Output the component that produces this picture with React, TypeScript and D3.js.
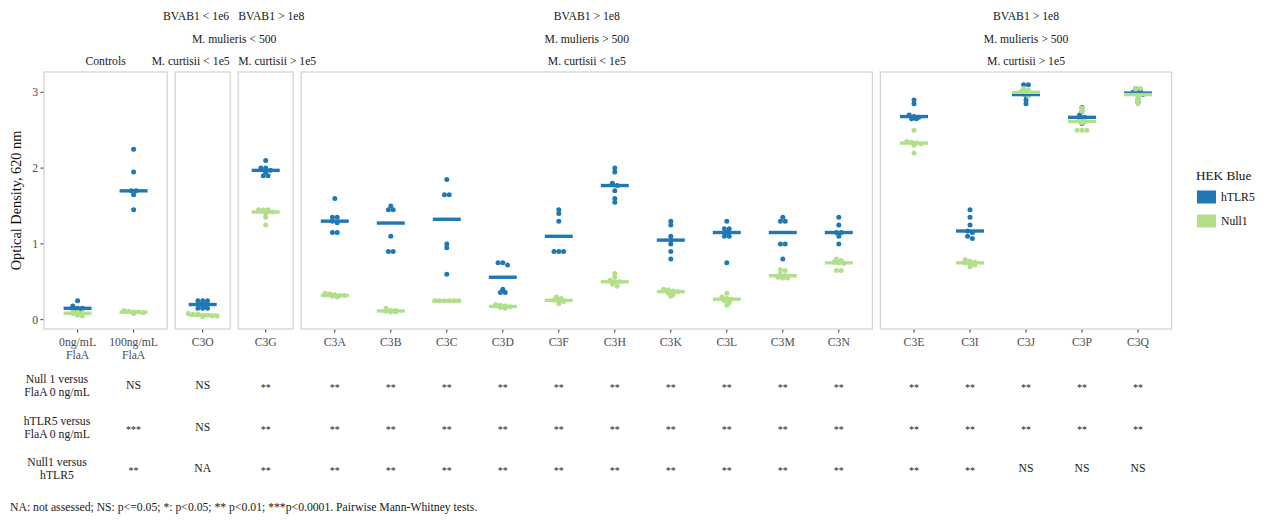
import React from 'react';
import * as d3 from 'd3';

// ---------------- data ----------------
const panelCategories: string[][] = [
  ['0ng/mL\nFlaA', '100ng/mL\nFlaA'],
  ['C3O'],
  ['C3G'],
  ['C3A', 'C3B', 'C3C', 'C3D', 'C3F', 'C3H', 'C3K', 'C3L', 'C3M', 'C3N'],
  ['C3E', 'C3I', 'C3J', 'C3P', 'C3Q'],
];

const seriesNames = ['hTLR5', 'Null1'];
const seriesColors = ['#1f78b4', '#b2df8a'];

// hTLR5 optical density per category (in category order)
const hTLR5Values: number[][] = [
  [0.25, 0.18, 0.15, 0.15, 0.14, 0.13],
  [2.25, 1.95, 1.7, 1.7, 1.65, 1.45],
  [0.25, 0.25, 0.25, 0.2, 0.2, 0.15, 0.15, 0.15],
  [2.1, 2.0, 2.0, 1.97, 1.95, 1.9, 1.9],
  [1.6, 1.35, 1.35, 1.3, 1.28, 1.15, 1.15],
  [1.5, 1.45, 1.45, 1.1, 0.9, 0.9],
  [1.85, 1.65, 1.65, 1.0, 0.95, 0.6],
  [0.75, 0.75, 0.72, 0.4, 0.36, 0.36],
  [1.45, 1.4, 1.3, 0.9, 0.9, 0.9],
  [2.0, 1.95, 1.8, 1.77, 1.7, 1.6, 1.55],
  [1.3, 1.25, 1.1, 1.05, 1.0, 0.9, 0.8],
  [1.3, 1.2, 1.2, 1.15, 1.1, 1.1, 0.75],
  [1.35, 1.3, 1.3, 1.0, 1.0, 0.8],
  [1.35, 1.25, 1.15, 1.15, 1.1, 1.0],
  [2.9, 2.85, 2.7, 2.68, 2.67, 2.65, 2.65],
  [1.45, 1.35, 1.25, 1.17, 1.15, 1.1, 1.07],
  [3.1, 3.1, 3.0, 2.97, 2.95, 2.9, 2.85],
  [2.8, 2.75, 2.7, 2.67, 2.65, 2.62, 2.59],
  [3.05, 3.02, 3.0, 2.99, 2.97, 2.91, 2.87],
];

// Null1 optical density per category (in category order)
const null1Values: number[][] = [
  [0.12, 0.1, 0.09, 0.08, 0.06, 0.05],
  [0.12, 0.11, 0.1, 0.1, 0.09, 0.08],
  [0.08, 0.07, 0.07, 0.06, 0.06, 0.05, 0.05, 0.04],
  [1.45, 1.45, 1.45, 1.42, 1.4, 1.35, 1.25],
  [0.35, 0.34, 0.33, 0.32, 0.32, 0.31, 0.3],
  [0.15, 0.12, 0.12, 0.11, 0.1, 0.1],
  [0.25, 0.25, 0.25, 0.25, 0.25, 0.25],
  [0.2, 0.19, 0.18, 0.17, 0.16, 0.15],
  [0.3, 0.28, 0.26, 0.25, 0.24, 0.21],
  [0.61, 0.56, 0.52, 0.5, 0.5, 0.47, 0.44],
  [0.4, 0.39, 0.38, 0.37, 0.35, 0.33, 0.31],
  [0.35, 0.3, 0.28, 0.27, 0.25, 0.22, 0.19],
  [0.66, 0.65, 0.6, 0.58, 0.56, 0.55, 0.55],
  [0.8, 0.78, 0.76, 0.75, 0.74, 0.65, 0.65],
  [2.5, 2.35, 2.34, 2.33, 2.32, 2.3, 2.2],
  [0.79, 0.77, 0.76, 0.75, 0.73, 0.72, 0.7],
  [3.05, 3.03, 3.01, 3.0, 2.99, 2.97, 2.95],
  [2.79, 2.75, 2.65, 2.63, 2.6, 2.5, 2.5, 2.5],
  [3.05, 3.05, 3.0, 2.97, 2.95, 2.9, 2.85],
];

const yTicks = [0, 1, 2, 3];

// strip header rows
const headerRow1 = ['', 'BVAB1 < 1e6', 'BVAB1 > 1e8', 'BVAB1 > 1e8', 'BVAB1 > 1e8'];
const headerRow2 = ['', 'M. mulieris < 500', 'M. mulieris > 500', 'M. mulieris > 500'];
const headerRow3 = ['Controls', 'M. curtisii < 1e5', 'M. curtisii > 1e5', 'M. curtisii < 1e5', 'M. curtisii > 1e5'];

// significance table (columns = all categories except the first control)
const tableRowLabels = [
  ['Null 1 versus', 'FlaA 0 ng/mL'],
  ['hTLR5 versus', 'FlaA 0 ng/mL'],
  ['Null1 versus', 'hTLR5'],
];
const tableRow1 = ['NS', 'NS', '**', '**', '**', '**', '**', '**', '**', '**', '**', '**', '**', '**', '**', '**', '**', '**'];
const tableRow2 = ['***', 'NS', '**', '**', '**', '**', '**', '**', '**', '**', '**', '**', '**', '**', '**', '**', '**', '**'];
const tableRow3 = ['**', 'NA', '**', '**', '**', '**', '**', '**', '**', '**', '**', '**', '**', '**', '**', 'NS', 'NS', 'NS'];

const footnote = 'NA: not assessed; NS: p<=0.05; *: p<0.05; ** p<0.01; ***p<0.0001. Pairwise Mann-Whitney tests.';

// ---------------- layout ----------------
const W = 1270, H = 520;
const FONT = "'Liberation Serif', 'Times New Roman', 'DejaVu Serif', serif";
const FS = 11.7;
const unit = 56;
const singleW = 55;
const gap = 8;
const plotLeft = 44;
const plotTop = 72, plotBottom = 329;
const dotR = 2.5;
const dotStep = 4.8;

function stackDots(values: number[], bin: number) {
  const sorted = [...values].sort((a, b) => b - a);
  const bins: number[][] = [];
  for (const v of sorted) {
    const last = bins[bins.length - 1];
    if (last && last[0] - v < bin) last.push(v);
    else bins.push([v]);
  }
  const out: { v: number; k: number }[] = [];
  bins.forEach(b => b.forEach((v, i) => out.push({ v, k: i - (b.length - 1) / 2 })));
  return out;
}

export default function App() {
  const y = d3.scaleLinear().domain([-0.123, 3.268]).range([plotBottom, plotTop]);

  let cursor = plotLeft;
  const panels = panelCategories.map(cats => {
    const w = cats.length > 1 ? unit * (cats.length + 0.2) : singleW;
    const x0 = cursor;
    cursor += w + gap;
    const xs = d3.scalePoint<string>().domain(cats).range([x0, x0 + w]).padding(0.6);
    return { x0, w, cats, xs };
  });

  const allCats: { name: string; x: number }[] = [];
  panels.forEach(p => p.cats.forEach(c => allCats.push({ name: c, x: p.xs(c)! })));

  const halfBar = unit * 0.25;
  const seriesData = [hTLR5Values, null1Values];

  const pc = (i: number) => panels[i].x0 + panels[i].w / 2;
  const tf = { fontFamily: FONT };

  const hdr = (txt: string, x: number, yy: number, anchor = 'middle', key = '') => (
    <text key={key + txt + x + yy} x={x} y={yy} textAnchor={anchor} fontSize={FS} fill="#1a1a1a" style={tf}>{txt}</text>
  );

  const tableRows = [tableRow1, tableRow2, tableRow3];
  const tableY = [385, 427, 468];

  return (
    <svg width={W} height={H} style={{ position: 'absolute', left: 0, top: 0, background: '#fff', fontFamily: FONT }}>
      <g>
        {hdr(headerRow1[1], panels[1].x0 + panels[1].w - 1, 20, 'end', 'h1')}
        {hdr(headerRow1[2], panels[2].x0, 20, 'start', 'h1')}
        {hdr(headerRow1[3], pc(3), 20, 'middle', 'h1')}
        {hdr(headerRow1[4], pc(4), 20, 'middle', 'h1')}
        {hdr(headerRow2[1], (panels[1].x0 + panels[2].x0 + panels[2].w) / 2, 43, 'middle', 'h2')}
        {hdr(headerRow2[2], pc(3), 43, 'middle', 'h2')}
        {hdr(headerRow2[3], pc(4), 43, 'middle', 'h2')}
        {hdr(headerRow3[0], pc(0), 65, 'middle', 'h3')}
        {hdr(headerRow3[1], panels[1].x0 + panels[1].w - 0.5, 65, 'end', 'h3')}
        {hdr(headerRow3[2], panels[2].x0, 65, 'start', 'h3')}
        {hdr(headerRow3[3], pc(3), 65, 'middle', 'h3')}
        {hdr(headerRow3[4], pc(4), 65, 'middle', 'h3')}
      </g>

      {panels.map((p, pi) => (
        <g key={'p' + pi}>
          <rect x={p.x0} y={plotTop} width={p.w} height={plotBottom - plotTop} fill="#fff" stroke="#d4d4d4" strokeWidth={1.3} />
          {p.cats.map(c => {
            const x = p.xs(c)!;
            return (
              <g key={c}>
                <line x1={x} x2={x} y1={plotBottom + 0.7} y2={plotBottom + 3.5} stroke="#333" strokeWidth={1} />
                {c.split('\n').map((ln, li) => (
                  <text key={li} x={x} y={plotBottom + 17 + li * 12.5} textAnchor="middle" fontSize={FS} fill="#4d4d4d" style={tf}>{ln}</text>
                ))}
              </g>
            );
          })}
        </g>
      ))}

      {yTicks.map(t => (
        <g key={'yt' + t}>
          <line x1={plotLeft - 3.5} x2={plotLeft - 0.7} y1={y(t)} y2={y(t)} stroke="#333" strokeWidth={1} />
          <text x={plotLeft - 6} y={y(t) + 4} textAnchor="end" fontSize={FS} fill="#4d4d4d" style={tf}>{t}</text>
        </g>
      ))}
      <text transform={`translate(21,${(plotTop + plotBottom) / 2}) rotate(-90)`} textAnchor="middle" fontSize={14.3} fill="#111" style={tf}>
        Optical Density, 620 nm
      </text>

      {seriesData.map((sd, si) => (
        <g key={'pts' + si}>
          {allCats.map((c, ci) =>
            stackDots(sd[ci], 0.035).map((d, di) => (
              <circle key={ci + '-' + di} cx={c.x + d.k * dotStep} cy={y(d.v)} r={dotR} fill={seriesColors[si]} />
            ))
          )}
        </g>
      ))}
      {seriesData.map((sd, si) => (
        <g key={'med' + si}>
          {allCats.map((c, ci) => {
            const m = d3.median(sd[ci])!;
            return (
              <line key={ci} x1={c.x - halfBar} x2={c.x + halfBar} y1={y(m)} y2={y(m)} stroke={seriesColors[si]} strokeWidth={3.4} />
            );
          })}
        </g>
      ))}

      <text x={1196} y={180} fontSize={13.2} fill="#111" style={tf}>HEK Blue</text>
      {seriesNames.map((s, i) => (
        <g key={s}>
          <rect x={1197} y={190.5 + i * 24} width={19} height={13} fill={seriesColors[i]} />
          <text x={1221} y={201 + i * 24} fontSize={FS} fill="#111" style={tf}>{s}</text>
        </g>
      ))}

      {tableRowLabels.map((lbl, ri) => (
        <g key={'tr' + ri}>
          {lbl.map((ln, li) => (
            <text key={li} x={57} y={tableY[ri] - 2.5 + li * 13} textAnchor="middle" fontSize={FS} fill="#1a1a1a" style={tf}>{ln}</text>
          ))}
          {tableRows[ri].map((v, vi) => {
            const c = allCats[vi + 1];
            if (!c) return null;
            const star = v.startsWith('*');
            return (
              <text key={vi} x={c.x} y={tableY[ri] + (star ? 6 : 4)} textAnchor="middle" fontSize={star ? 10 : FS} fill="#1a1a1a" style={tf}>{v}</text>
            );
          })}
        </g>
      ))}

      <text x={10} y={511} fontSize={FS} fill="#1a1a1a" style={tf}>{footnote}</text>
    </svg>
  );
}
